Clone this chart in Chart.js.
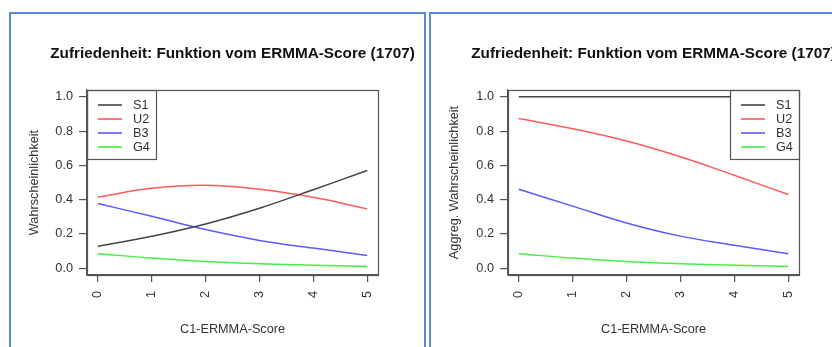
<!DOCTYPE html>
<html>
<head>
<meta charset="utf-8">
<script src="https://cdn.jsdelivr.net/npm/chart.js@4"></script>
<style>
  html, body { margin: 0; padding: 0; background: #fff; }
  body { width: 832px; height: 347px; position: relative; overflow: hidden; }
  .frame { position: absolute; box-sizing: border-box; border: 2px solid #5a8ad0; border-bottom: none; }
  #frameA { left: 9px; top: 12px; width: 417px; height: 400px; }
  #frameB { left: 429px; top: 12px; width: 460px; height: 400px; border-right: none; }
  .box { position: absolute; top: 14px; height: 333px; }
  #boxA { left: 11px; width: 413px; }
  #boxB { left: 431px; width: 401px; }
</style>
</head>
<body>
<div class="frame" id="frameA"></div>
<div class="frame" id="frameB"></div>
<div class="box" id="boxA"><canvas id="chartA"></canvas></div>
<div class="box" id="boxB"><canvas id="chartB"></canvas></div>
<script>
// C1-ERMMA-Score values
const scores = [0, 1, 2, 3, 4, 5];
const yTicks = [0, 0.2, 0.4, 0.6, 0.8, 1.0];
const seriesNames = ['S1', 'U2', 'B3', 'G4'];
const seriesColors = ['#444444', '#ff5a5a', '#5a5aff', '#44ee44'];

// Probability per satisfaction class
const probS1 = [0.127, 0.186, 0.258, 0.350, 0.458, 0.570];
const probU2 = [0.414, 0.466, 0.484, 0.461, 0.414, 0.346];
const probB3 = [0.377, 0.303, 0.225, 0.162, 0.117, 0.074];
const probG4 = [0.084, 0.059, 0.039, 0.025, 0.017, 0.010];

// Aggregated (cumulative) probability
const aggS1 = [1.0, 1.0, 1.0, 1.0, 1.0, 1.0];
const aggU2 = [0.873, 0.814, 0.742, 0.650, 0.542, 0.430];
const aggB3 = [0.461, 0.362, 0.264, 0.187, 0.134, 0.084];
const aggG4 = [0.084, 0.059, 0.039, 0.025, 0.017, 0.010];

const chartTitle = 'Zufriedenheit: Funktion vom ERMMA-Score (1707)';
const xTitle = 'C1-ERMMA-Score';

const FONT = "'Liberation Sans', Arial, Helvetica, sans-serif";
Chart.defaults.font.family = FONT;
Chart.defaults.font.size = 12.7;
Chart.defaults.color = '#333';

const AXIS = '#555';

// Plot frame, legend box and main title drawn on top of the plot
const decor = {
  id: 'decor',
  afterDatasetsDraw(chart, args, opts) {
    const { ctx, chartArea: a } = chart;
    ctx.save();
    // legend box
    const w = 69, h = 69;
    const lx = opts.legendSide === 'right' ? a.right - w : a.left;
    const ly = a.top;
    ctx.fillStyle = '#fff';
    ctx.fillRect(lx, ly, w, h);
    ctx.strokeStyle = AXIS;
    ctx.lineWidth = 1.2;
    ctx.strokeRect(Math.round(lx) + 0.5, Math.round(ly) + 0.5, w, h);
    ctx.font = '12.7px ' + FONT;
    ctx.textAlign = 'left';
    ctx.textBaseline = 'middle';
    chart.data.datasets.forEach((ds, i) => {
      const y = ly + 15 + 14 * i;
      ctx.strokeStyle = ds.borderColor;
      ctx.lineWidth = 1.6;
      ctx.beginPath();
      ctx.moveTo(lx + 11, y);
      ctx.lineTo(lx + 35, y);
      ctx.stroke();
      ctx.fillStyle = '#333';
      ctx.fillText(ds.label, lx + 46, y + 0.5);
    });
    // plot frame
    ctx.strokeStyle = AXIS;
    ctx.lineWidth = 1.2;
    ctx.strokeRect(Math.round(a.left) + 0.5, Math.round(a.top) + 0.5,
                   Math.round(a.right - a.left), Math.round(a.bottom - a.top));
    // main title
    ctx.fillStyle = '#111';
    ctx.font = 'bold 15.3px ' + FONT;
    ctx.textAlign = 'center';
    ctx.textBaseline = 'middle';
    ctx.fillText(opts.title, (a.left + a.right) / 2, 39.5);
    ctx.restore();
  }
};

function makeChart(id, yTitle, series, legendSide, rightPad, yWidth) {
  const datasets = series.map((arr, i) => ({
    label: seriesNames[i],
    data: scores.map((x, j) => ({ x: x, y: arr[j] })),
    borderColor: seriesColors[i],
    borderWidth: 1.5,
    pointRadius: 0,
    tension: 0.4,
    fill: false
  }));
  return new Chart(document.getElementById(id), {
    type: 'line',
    data: { datasets },
    plugins: [decor],
    options: {
      responsive: true,
      maintainAspectRatio: false,
      animation: false,
      events: [],
      layout: { padding: { top: 76, right: rightPad, bottom: 0, left: 0 } },
      plugins: {
        legend: { display: false },
        title: { display: false },
        tooltip: { enabled: false },
        decor: { title: chartTitle, legendSide: legendSide }
      },
      scales: {
        x: {
          type: 'linear',
          min: -0.2,
          max: 5.2,
          afterBuildTicks: s => { s.ticks = scores.map(v => ({ value: v })); },
          afterFit: s => { s.height = 72; },
          grid: { drawOnChartArea: false, drawTicks: true, tickLength: 7, color: AXIS, lineWidth: 1.2 },
          border: { display: true, color: AXIS, width: 1.2 },
          ticks: { minRotation: 90, maxRotation: 90, padding: 9, color: '#333',
                   callback: v => String(v) },
          title: { display: true, text: xTitle, color: '#333',
                   font: { size: 12.7 }, padding: { top: 0, bottom: 10 } }
        },
        y: {
          type: 'linear',
          min: -0.04,
          max: 1.04,
          afterBuildTicks: s => { s.ticks = yTicks.map(v => ({ value: v })); },
          afterFit: s => { s.width = yWidth; },
          grid: { drawOnChartArea: false, drawTicks: true, tickLength: 8, color: AXIS, lineWidth: 1.2 },
          border: { display: true, color: AXIS, width: 1.2 },
          ticks: { padding: 6, color: '#333', callback: v => v.toFixed(1) },
          title: { display: true, text: yTitle, color: '#333',
                   font: { size: 12.7 }, padding: { top: 16, bottom: 0 } }
        }
      }
    }
  });
}

makeChart('chartA', 'Wahrscheinlichkeit', [probS1, probU2, probB3, probG4], 'left', 46, 76);
makeChart('chartB', 'Aggreg. Wahrscheinlichkeit', [aggS1, aggU2, aggB3, aggG4], 'right', 33, 77);
</script>
</body>
</html>
